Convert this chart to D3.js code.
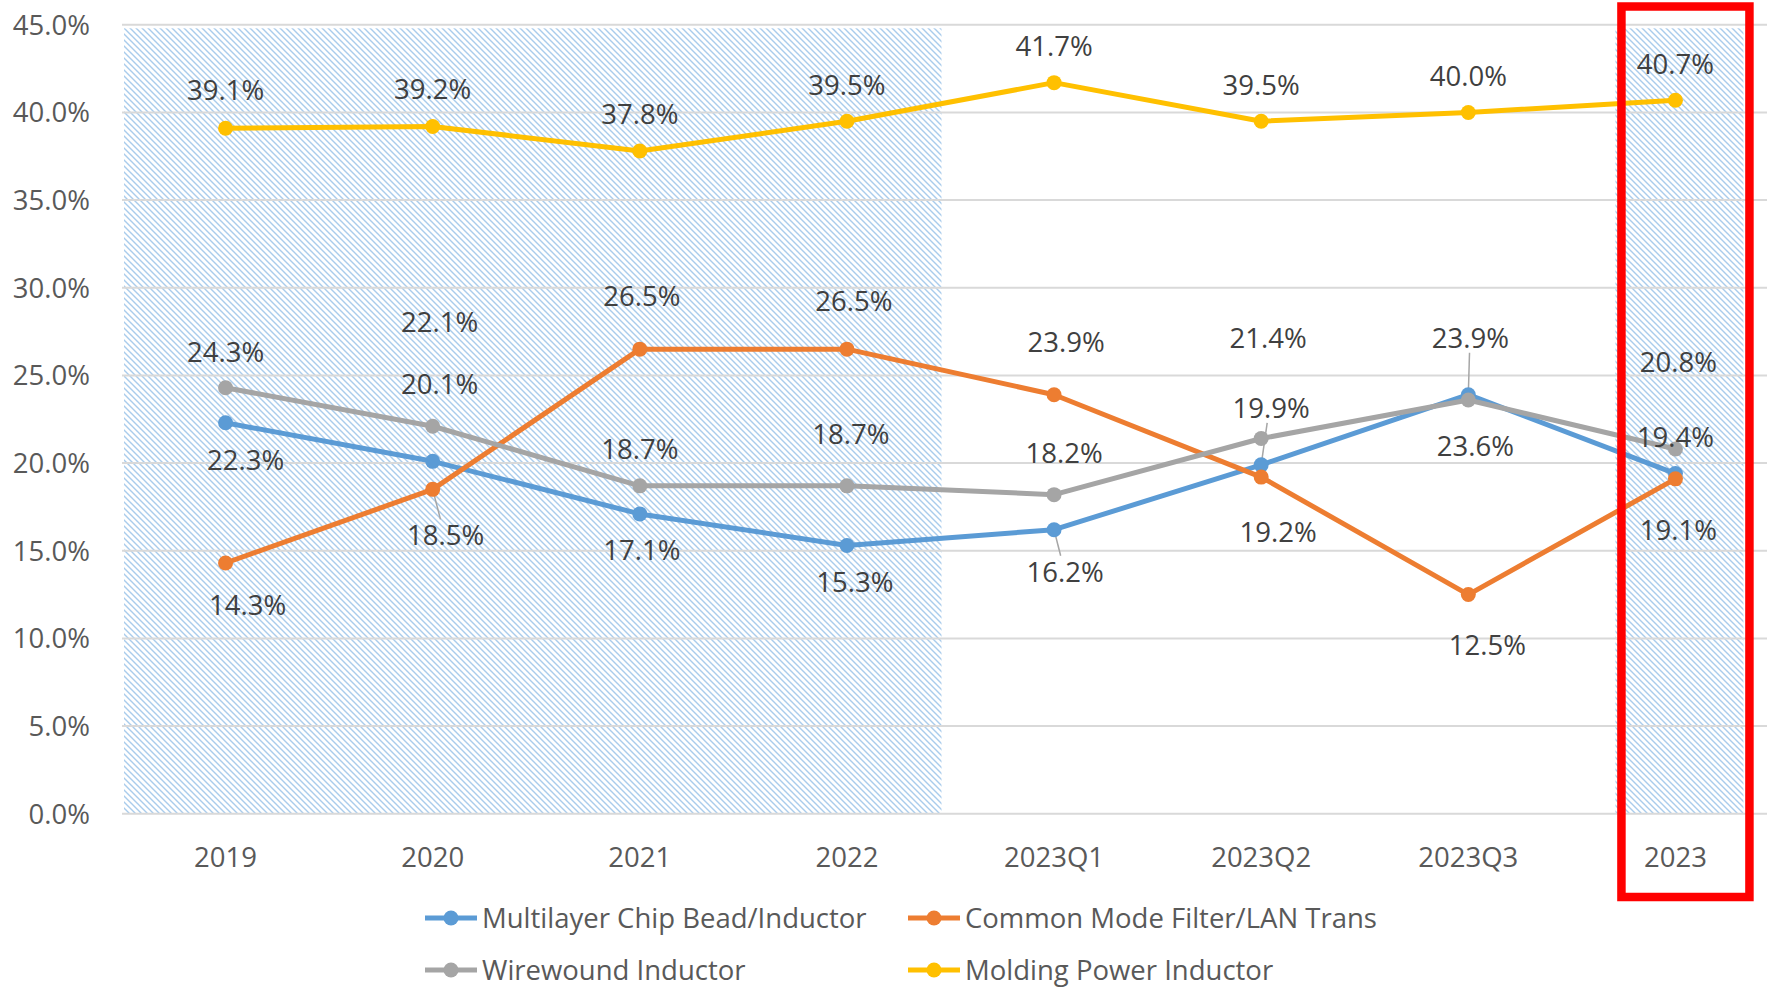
<!DOCTYPE html>
<html>
<head>
<meta charset="utf-8">
<script src="https://cdn.jsdelivr.net/npm/d3@7"></script>
<style>
  html, body { margin: 0; padding: 0; background: #fff; }
  svg { display: block; font-family: "Open Sans", "Noto Sans", sans-serif; }
</style>
</head>
<body>
<svg id="chart" width="1767" height="987"></svg>
<script>
// categories and tick values
const categories = ["2019", "2020", "2021", "2022", "2023Q1", "2023Q2", "2023Q3", "2023"];
const yTicks = [0, 0.05, 0.10, 0.15, 0.20, 0.25, 0.30, 0.35, 0.40, 0.45];

// series (share %)
const multilayer = [22.3, 20.1, 17.1, 15.3, 16.2, 19.9, 23.9, 19.4];
const commonMode = [14.3, 18.5, 26.5, 26.5, 23.9, 19.2, 12.5, 19.1];
const wirewound  = [24.3, 22.1, 18.7, 18.7, 18.2, 21.4, 23.6, 20.8];
const molding    = [39.1, 39.2, 37.8, 39.5, 41.7, 39.5, 40.0, 40.7];

const seriesNames = [
    "Multilayer Chip Bead/Inductor",
    "Common Mode Filter/LAN Trans",
    "Wirewound Inductor",
    "Molding Power Inductor"
];

// shaded (hatched) periods
const shadedSpans = [["2019", "2022"], ["2023", "2023"]];
const shadedTop = 44.8;

// ---- layout / style ----
const W = 1767, H = 987;
const colors = ["#5B9BD5", "#ED7D31", "#A5A5A5", "#FFC000"];
const fontSize = 27.5;

// label offsets from the point (dx, dy), manual placement like the original
const labelShift = [
    [[20, 37], [7, -77], [2, 36], [8, 37], [11, 42], [10, -57], [2, -57], [0, -36]],
    [[22, 42], [13, 46], [2, -53], [7, -48], [12, -53], [17, 55], [19, 51], [3, 51]],
    [[0, -36], [7, -104], [0, -37], [4, -52], [10, -42], [7, -100], [7, 46], [3, -87]],
    [[0, -38], [0, -37], [0, -37], [0, -36], [0, -37], [0, -36], [0, -36], [0, -36]]
];
// which labels get a leader line back to their point
const leaders = [[1, 1], [0, 4], [0, 5], [0, 6]];

const svg = d3.select('#chart');

const x = d3.scaleBand().domain(categories).range([122, 1779]);
const cx = c => x(c) + x.bandwidth() / 2;
const y = d3.scaleLinear().domain([0, 0.45]).range([813.7, 24.8]);

// hatch pattern (light blue wide downward diagonal)
const defs = svg.append('defs');
const pat = defs.append('pattern')
    .attr('id', 'hatch')
    .attr('patternUnits', 'userSpaceOnUse')
    .attr('width', 6).attr('height', 6);
pat.append('rect').attr('width', 6).attr('height', 6).attr('fill', '#fff');
pat.append('path')
    .attr('d', 'M-1,-1 L7,7 M-1,5 L1,7 M5,-1 L7,1')
    .attr('stroke', '#A9CCEC')
    .attr('stroke-width', 1.4);

// shaded periods
svg.selectAll('rect.shade')
    .data(shadedSpans)
    .enter()
    .append('rect')
    .attr('class', 'shade')
    .attr('x', d => d[0] === d[1] ? cx(d[0]) - 60 : x(d[0]) + 2)
    .attr('width', d => d[0] === d[1] ? 128 : x(d[1]) + x.bandwidth() - x(d[0]) - 11)
    .attr('y', y(shadedTop / 100))
    .attr('height', y(0) - y(shadedTop / 100))
    .attr('fill', 'url(#hatch)');

// gridlines
svg.selectAll('line.grid')
    .data(yTicks)
    .enter()
    .append('line')
    .attr('class', 'grid')
    .attr('x1', 122).attr('x2', W)
    .attr('y1', d => y(d)).attr('y2', d => y(d))
    .attr('stroke', '#D9D9D9')
    .attr('stroke-width', 2);

// y tick labels
svg.selectAll('text.ytick')
    .data(yTicks)
    .enter()
    .append('text')
    .attr('class', 'ytick')
    .attr('x', 90)
    .attr('y', d => y(d))
    .attr('dy', '0.36em')
    .attr('text-anchor', 'end')
    .attr('font-size', fontSize)
    .attr('fill', '#595959')
    .text(d3.format('.1%'));

// x tick labels
svg.selectAll('text.xtick')
    .data(categories)
    .enter()
    .append('text')
    .attr('class', 'xtick')
    .attr('x', d => cx(d))
    .attr('y', 857)
    .attr('dy', '0.36em')
    .attr('text-anchor', 'middle')
    .attr('font-size', fontSize)
    .attr('fill', '#595959')
    .text(d => d);

const allSeries = [multilayer, commonMode, wirewound, molding];
const line = d3.line()
    .x((d, i) => cx(categories[i]))
    .y(d => y(d / 100));

// leader lines (under labels)
leaders.forEach(([s, i]) => {
    const px = cx(categories[i]), py = y(allSeries[s][i] / 100);
    const [dx, dy] = labelShift[s][i];
    const ly = py + dy + (dy < 0 ? 15 : -16);
    svg.append('line')
        .attr('x1', px).attr('y1', py)
        .attr('x2', px + dx * 0.6).attr('y2', ly)
        .attr('stroke', '#A6A6A6')
        .attr('stroke-width', 1.5);
});

// series lines + markers
allSeries.forEach((vals, s) => {
    svg.append('path')
        .datum(vals)
        .attr('d', line)
        .attr('fill', 'none')
        .attr('stroke', colors[s])
        .attr('stroke-width', 5)
        .attr('stroke-linejoin', 'round');

    svg.selectAll(`circle.s${s}`)
        .data(vals)
        .enter()
        .append('circle')
        .attr('class', `s${s}`)
        .attr('cx', (d, i) => cx(categories[i]))
        .attr('cy', d => y(d / 100))
        .attr('r', 7.5)
        .attr('fill', colors[s]);
});

// data labels
allSeries.forEach((vals, s) => {
    svg.selectAll(`text.lab${s}`)
        .data(vals)
        .enter()
        .append('text')
        .attr('class', `lab${s}`)
        .attr('x', (d, i) => cx(categories[i]) + labelShift[s][i][0])
        .attr('y', (d, i) => y(d / 100) + labelShift[s][i][1])
        .attr('dy', '0.36em')
        .attr('text-anchor', 'middle')
        .attr('font-size', fontSize)
        .attr('fill', '#404040')
        .text(d => d.toFixed(1) + '%');
});

// red highlight box around 2023
svg.append('rect')
    .attr('x', cx('2023') - 54)
    .attr('y', 6.5)
    .attr('width', 128)
    .attr('height', 890.5)
    .attr('fill', 'none')
    .attr('stroke', '#FF0000')
    .attr('stroke-width', 8.5);

// legend
const legendPos = [[425, 918], [908, 918], [425, 970], [908, 970]];
const legend = svg.selectAll('g.legend-item')
    .data(seriesNames)
    .enter()
    .append('g')
    .attr('class', 'legend-item')
    .attr('transform', (d, i) => `translate(${legendPos[i][0]},${legendPos[i][1]})`);

legend.append('line')
    .attr('x1', 0).attr('x2', 52)
    .attr('stroke', (d, i) => colors[i])
    .attr('stroke-width', 5);
legend.append('circle')
    .attr('cx', 26).attr('r', 7.5)
    .attr('fill', (d, i) => colors[i]);
legend.append('text')
    .attr('x', 57)
    .attr('dy', '0.36em')
    .attr('font-size', fontSize)
    .attr('fill', '#595959')
    .text(d => d);
</script>
</body>
</html>
